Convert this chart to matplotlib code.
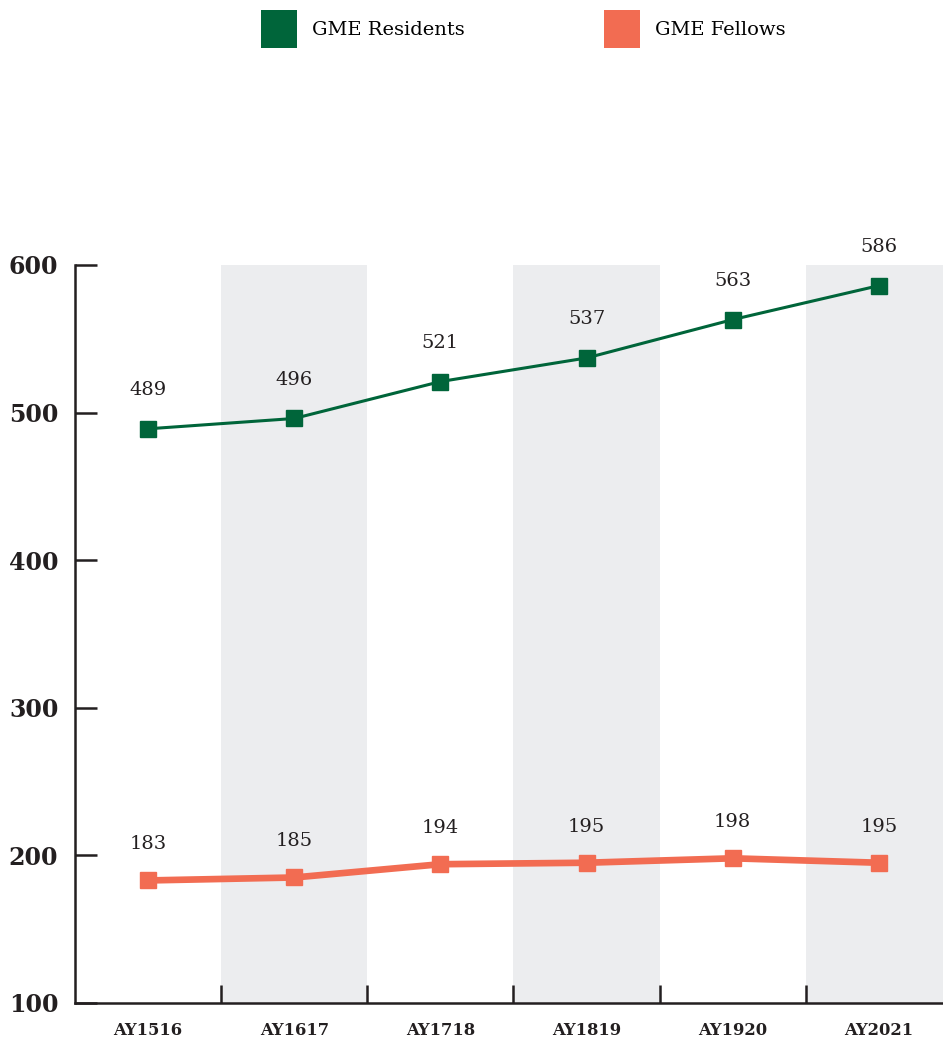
import matplotlib
matplotlib.use('Agg')
import matplotlib.pyplot as plt
from matplotlib.patches import Patch
import numpy as np

# data
years = ['AY1516', 'AY1617', 'AY1718', 'AY1819', 'AY1920', 'AY2021']
residents = [489, 496, 521, 537, 563, 586]
fellows = [183, 185, 194, 195, 198, 195]

green = '#00653A'
orange = '#F26C52'
band = '#ECEDEF'
ink = '#231F20'

plt.rcParams['font.family'] = ['DejaVu Serif']

fig = plt.figure(figsize=(9.43, 10.49), dpi=100)
ax = fig.add_axes([0.0795, 0.0439, 0.930, 0.7035])

x = np.arange(len(years))

# shaded bands behind every second year
for i in x:
    if i % 2 == 1:
        ax.axvspan(i - 0.5, i + 0.5, color=band, lw=0, zorder=0)

ax.plot(x, residents, color=green, lw=2.2, marker='s', ms=12, zorder=3)
ax.plot(x, fellows, color=orange, lw=4.8, marker='s', ms=12, zorder=3)

for xi, v in zip(x, residents):
    ax.annotate(str(v), (xi, v), xytext=(0, 28), textcoords='offset points',
                ha='center', va='center', fontsize=14, color=ink)
for xi, v in zip(x, fellows):
    ax.annotate(str(v), (xi, v), xytext=(0, 26), textcoords='offset points',
                ha='center', va='center', fontsize=14, color=ink)

ax.set_xlim(-0.5, len(years) - 0.5)
ax.set_ylim(100, 600)
ax.set_yticks([100, 200, 300, 400, 500, 600])
ax.set_xticks(x)
ax.set_xticklabels(years)
ax.set_xticks(x[:-1] + 0.5, minor=True)

for s in ['top', 'right']:
    ax.spines[s].set_visible(False)
for s in ['left', 'bottom']:
    ax.spines[s].set_linewidth(1.8)
    ax.spines[s].set_color(ink)

ax.tick_params(axis='y', direction='in', length=16, width=1.8, color=ink,
               labelsize=17, pad=12, labelcolor=ink)
ax.tick_params(axis='x', which='major', length=0, labelsize=11.8, pad=14,
               labelcolor=ink)
ax.tick_params(axis='x', which='minor', direction='in', length=13, width=1.8,
               color=ink)
for lab in ax.get_yticklabels():
    lab.set_fontweight('bold')
for lab in ax.get_xticklabels():
    lab.set_fontweight('bold')

handles = [Patch(facecolor=green, label='GME Residents'),
           Patch(facecolor=orange, label='GME Fellows')]
fig.legend(handles=handles, loc='upper center', bbox_to_anchor=(0.555, 1.0),
           ncol=2, frameon=False, fontsize=14, handlelength=1.85,
           handleheight=2.65, handletextpad=0.75, columnspacing=7.2,
           borderaxespad=0.1)

fig.savefig('out.png', dpi=100)
